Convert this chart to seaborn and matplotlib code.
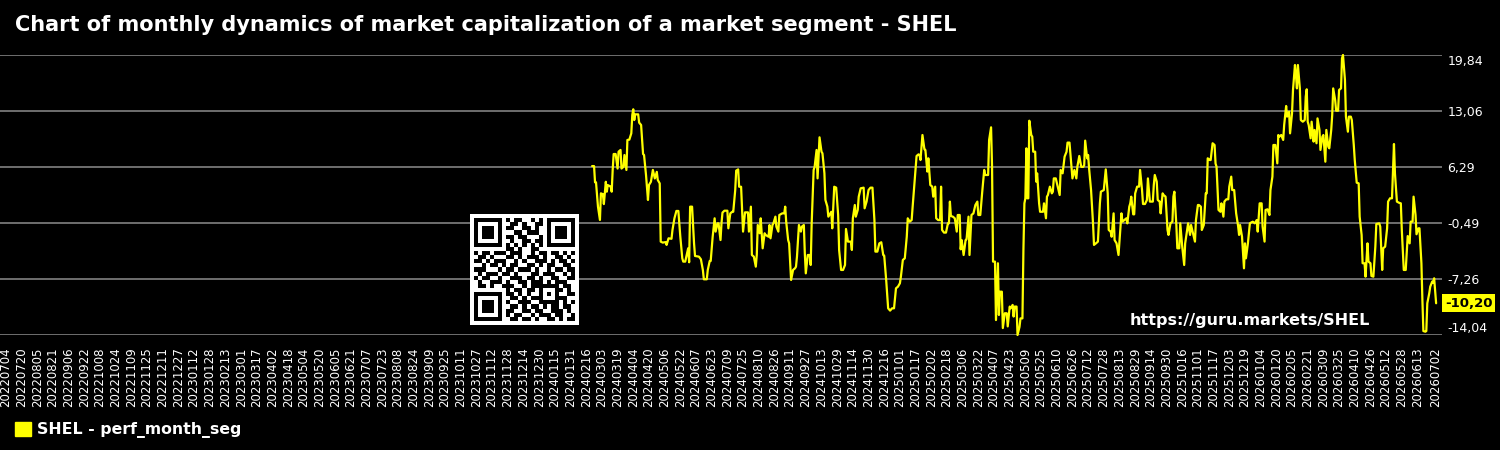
import numpy as np
import pandas as pd
import seaborn as sns
import matplotlib.pyplot as plt
from matplotlib.patches import Patch

# series: days counted from start_date, value of perf_month_seg
start_date = '2024-02-22'
day_offsets = [
    0, 2, 3, 4, 6, 8, 9, 11, 12, 14, 15, 16, 19, 20, 21, 22, 24, 26, 27, 29,
    30, 32, 33, 35, 36, 38, 40, 41, 42, 43, 44, 47, 48, 50, 52, 53, 55, 57, 58, 60,
    62, 64, 66, 67, 69, 70, 72, 75, 76, 78, 81, 82, 84, 86, 88, 90, 92, 93, 95, 98,
    99, 100, 102, 104, 105, 109, 111, 113, 114, 117, 118, 120, 121, 123, 125, 126, 128, 129, 131, 132,
    133, 135, 138, 139, 141, 143, 144, 146, 147, 149, 150, 152, 153, 154, 156, 159, 160, 162, 163, 165,
    167, 168, 169, 171, 172, 174, 176, 177, 180, 181, 182, 184, 185, 187, 188, 190, 191, 194, 196, 197,
    198, 200, 201, 203, 205, 207, 208, 209, 211, 213, 214, 216, 217, 218, 220, 222, 223, 224, 226, 227,
    229, 230, 232, 234, 235, 237, 238, 240, 241, 242, 244, 245, 247, 249, 251, 252, 254, 256, 258, 259,
    261, 264, 265, 266, 268, 269, 271, 272, 274, 277, 278, 280, 282, 284, 286, 288, 289, 291, 293, 295,
    297, 298, 300, 302, 304, 306, 308, 310, 312, 314, 315, 317, 319, 321, 322, 324, 326, 327, 329, 331,
    333, 334, 335, 337, 339, 340, 342, 343, 345, 347, 348, 350, 351, 353, 355, 356, 357, 359, 361, 363,
    364, 365, 366, 368, 370, 372, 373, 375, 376, 377, 379, 381, 382, 384, 385, 387, 389, 391, 393, 394,
    396, 398, 400, 401, 404, 405, 407, 408, 409, 411, 412, 414, 415, 416, 418, 419, 421, 423, 424, 426,
    427, 429, 430, 431, 433, 434, 436, 437, 439, 440, 441, 442, 443, 444, 445, 446, 448, 449, 450, 452,
    453, 454, 456, 457, 460, 461, 463, 464, 465, 467, 469, 470, 471, 473, 475, 477, 478, 480, 482, 484,
    485, 487, 489, 490, 492, 494, 495, 497, 499, 501, 502, 503, 505, 506, 507, 509, 511, 512, 514, 516,
    518, 519, 522, 524, 526, 527, 529, 530, 532, 533, 535, 537, 539, 540, 541, 543, 545, 546, 548, 549,
    550, 552, 553, 554, 556, 558, 559, 561, 562, 564, 566, 567, 569, 572, 573, 574, 576, 577, 579, 580,
    582, 583, 585, 587, 588, 590, 592, 593, 594, 596, 597, 599, 600, 602, 604, 605, 607, 608, 610, 611,
    613, 615, 616, 618, 619, 621, 622, 624, 626, 627, 628, 630, 631, 633, 635, 636, 637, 639, 641, 642,
    644, 645, 647, 649, 650, 652, 653, 655, 657, 659, 660, 661, 663, 665, 666, 667, 669, 671, 672, 674,
    676, 678, 679, 681, 683, 684, 686, 687, 689, 691, 692, 694, 695, 697, 699, 700, 701, 703, 705, 706,
    708, 709, 711, 712, 714, 715, 717, 718, 719, 720, 722, 723, 725, 727, 728, 729, 730, 731, 733, 734,
    736, 737, 739, 740, 742, 743, 745, 746, 748, 749, 751, 752, 754, 755, 756, 758, 759, 761, 762, 764,
    765, 766, 768, 769, 771, 772, 774, 775, 777, 778, 780, 782, 783, 785, 786, 788, 789, 791, 792, 794,
    795, 797, 799, 800, 803, 804, 806, 807, 809, 811, 812, 814, 816, 818, 819, 821, 823, 825, 826, 828,
    830, 832, 834, 835, 837, 838, 840, 841, 843, 844, 846, 847, 848, 850, 851, 852, 854, 855, 857, 858,
    859, 861,
]
values = [
    6.40, 6.40, 4.43, 4.43, 1.49, -0.12, 3.10, 3.00, 1.80, 4.50, 3.30, 4.10, 3.91, 3.30, 5.93, 7.86, 7.86, 6.10, 8.14, 8.35,
    6.10, 6.30, 7.74, 5.93, 9.56, 9.60, 10.36, 12.58, 13.27, 11.97, 12.66, 12.66, 11.66, 11.37, 7.86, 7.74, 5.32, 2.30, 4.11, 4.50,
    5.93, 4.90, 5.70, 4.72, 4.30, -2.74, -2.86, -2.80, -3.14, -2.34, -2.40, -1.33, 0.08, 0.97, 0.97, -2.15, -4.76, -5.16, -5.16, -3.55,
    -5.24, 1.49, 1.49, -2.95, -4.48, -4.56, -4.88, -6.17, -7.30, -7.30, -6.17, -5.08, -5.08, -2.15, 0.08, -1.53, -0.53, -0.53, -2.55, -0.53,
    0.77, 1.00, 1.00, -1.13, 0.68, 0.87, 0.87, 3.50, 5.85, 6.00, 3.90, 3.90, 1.09, -1.53, 0.80, 0.80, -1.53, 1.49, -4.36, -4.56,
    -5.77, -4.36, -0.73, -1.73, 0.08, -3.55, -1.73, -1.93, -2.15, -0.73, -2.34, -0.73, -0.53, 0.28, -0.93, -1.53, 0.48, 0.68, 0.68, 1.49,
    -0.33, -2.55, -2.95, -7.38, -6.17, -5.97, -5.77, -4.56, -0.73, -1.53, -0.93, -0.73, -4.15, -6.58, -4.36, -4.36, -5.57, -0.53, 5.93, 6.30,
    8.35, 4.91, 9.88, 8.14, 7.94, 5.52, 2.30, 1.49, 0.28, 0.48, 0.87, -1.13, 3.90, 3.79, 0.48, -3.75, -6.17, -6.17, -5.57, -1.21,
    -2.74, -2.74, -3.75, 0.08, 1.69, 0.28, 1.09, 2.70, 3.71, 3.79, 1.29, 2.10, 3.50, 3.79, 3.79, -0.13, -3.95, -3.95, -2.95, -2.82,
    -4.36, -4.44, -7.38, -10.81, -11.09, -10.81, -10.81, -8.39, -8.19, -7.78, -6.98, -4.96, -4.76, -2.15, 0.08, -0.33, -0.13, 1.49, 4.52, 7.62,
    7.82, 7.74, 7.13, 10.16, 8.43, 8.35, 5.73, 7.34, 4.11, 3.91, 2.70, 3.91, 0.08, -0.13, -0.13, 3.91, -1.33, -1.65, -1.65, -0.53,
    -0.53, 2.10, 0.36, 0.28, 0.08, -1.53, 0.48, 0.48, -3.67, -2.55, -4.36, -2.55, -2.47, 0.28, -4.36, 0.48, 0.68, 1.69, 2.10, 0.48,
    0.48, 3.30, 5.93, 5.32, 5.32, 9.56, 11.09, 6.30, -5.16, -5.16, -12.23, -5.36, -11.62, -8.80, -8.80, -13.20, -11.41, -11.41, -13.00, -10.60,
    -10.81, -10.40, -11.81, -10.60, -10.60, -14.04, -13.06, -12.03, -12.03, -3.75, 1.89, 2.50, 8.55, 2.50, 2.50, 11.89, 10.16, 9.96, 8.14, 8.14,
    4.52, 5.52, 1.89, 0.87, 0.87, 1.89, 0.08, 2.70, 2.90, 3.91, 3.10, 3.30, 4.91, 4.91, 3.91, 2.90, 5.93, 5.52, 7.54, 8.14,
    9.24, 9.24, 6.30, 4.91, 5.93, 4.91, 6.30, 7.62, 6.30, 6.30, 6.50, 9.48, 7.34, 7.74, 6.10, 3.50, -0.53, -3.14, -2.95, -2.74,
    1.89, 3.30, 3.50, 6.00, 3.10, -1.33, -1.53, -2.15, 0.68, -2.55, -2.95, -4.36, -0.93, 0.68, -0.33, -0.13, 0.08, -0.53, 1.49, 1.89,
    2.70, 0.56, 0.56, 3.10, 3.91, 3.91, 5.93, 3.50, 1.81, 1.81, 2.30, 4.91, 2.10, 2.10, 4.11, 5.32, 4.52, 2.30, 2.10, 0.68,
    3.10, 2.90, 2.70, -1.33, -1.93, -0.53, -0.33, 2.70, 3.30, -0.73, -3.55, -3.55, -0.53, -3.35, -5.57, -2.95, -1.33, -0.53, -1.93, -0.73,
    -1.73, -2.74, -0.13, 1.69, 1.69, 1.49, -1.33, -0.73, 3.10, 3.10, 7.34, 7.13, 7.13, 9.16, 8.95, 6.70, 6.33, 1.09, 0.87, 1.89,
    0.28, 2.10, 2.38, 2.38, 3.91, 5.12, 3.50, 3.50, 0.68, -0.85, -1.93, -0.73, -2.15, -5.97, -2.95, -4.76, -2.95, -0.53, -0.45, -0.33,
    -0.53, -0.13, -1.53, 1.89, 1.89, -0.93, -2.74, 1.09, 1.17, 0.48, 3.50, 5.12, 8.95, 8.95, 6.73, 10.16, 9.96, 10.16, 9.56, 11.37,
    13.67, 12.38, 12.98, 10.36, 12.78, 15.61, 18.63, 17.40, 15.80, 18.63, 15.80, 11.97, 11.77, 11.97, 14.80, 15.69, 11.77, 11.37, 9.76, 11.77,
    9.36, 10.77, 9.16, 12.17, 10.77, 8.35, 9.96, 10.16, 6.93, 10.77, 8.75, 8.55, 10.77, 12.58, 15.80, 14.40, 13.10, 13.10, 15.61, 15.80,
    19.44, 19.84, 16.82, 12.38, 10.56, 12.38, 12.38, 11.97, 8.95, 7.13, 4.39, 4.31, 0.28, -1.93, -5.36, -5.36, -6.98, -2.95, -5.16, -5.36,
    -6.90, -6.98, -3.35, -0.61, -0.53, -0.93, -6.17, -3.55, -3.35, -1.13, 2.10, 2.50, 2.50, 9.07, 5.52, 2.10, 1.97, 1.89, -1.33, -6.17,
    -6.17, -2.07, -2.95, -0.33, -0.33, 2.70, 0.48, -1.85, -1.13, -1.13, -5.36, -9.80, -13.56, -13.64, -13.56, -10.20, -8.99, -8.19, -7.58, -7.70,
    -7.18, -10.20,
]

first_tick = '2022-07-04'
last_regular_tick = '2026-06-13'
last_date = '2026-07-02'
series_name = 'SHEL - perf_month_seg'
title = 'Chart of monthly dynamics of market capitalization of a market segment - SHEL'
site = 'https://guru.markets/SHEL'

# qr-like badge
qr_rows = [
    "1111111010110010101111111",
    "1000001001101001101000001",
    "1011101011001101001011101",
    "1011101000110111001011101",
    "1011101011011000101011101",
    "1000001001001101101000001",
    "1111111010101010101111111",
    "0000000011010011000000000",
    "1011011101110010110110101",
    "0110100011010111010011010",
    "1101011100101001110101101",
    "0010110101100110101100110",
    "1110001011011101001011011",
    "0101110110100011011100101",
    "1011001001110110100110011",
    "0100111010011011101011100",
    "0110100111001011111110110",
    "0000000010110110100011010",
    "1111111011010100101010011",
    "1000001001101011100011100",
    "1011101010011100111110101",
    "1011101001101011010110110",
    "1011101011001101100111010",
    "1000001010110010111011001",
    "1111111001101101001101011",
]

sns.set_theme(style='dark')
plt.rcParams['font.family'] = ['DejaVu Sans']

df = pd.DataFrame({
    'date': pd.Timestamp(start_date) + pd.to_timedelta(day_offsets, unit='D'),
    'value': values,
})

fig = plt.figure(figsize=(15, 4.5), dpi=100, facecolor='black')
ax = fig.add_axes([0, 1 - 335 / 450, 1442 / 1500, 280 / 450])
ax.set_facecolor('black')

sns.lineplot(data=df, x='date', y='value', color='#ffff00', lw=1.6, ax=ax, legend=False)
ax.lines[0].set_clip_on(False)

ax.set_xlim(pd.Timestamp(first_tick) - pd.Timedelta(days=6), pd.Timestamp(last_date) + pd.Timedelta(days=6))
vmin, vmax = min(values), max(values)
ax.set_ylim(vmin, vmax)
yticks = np.linspace(vmin, vmax, 6)
ax.yaxis.tick_right()
ax.set_yticks(yticks)
ax.set_yticklabels([f'{t:.2f}'.replace('.', ',') for t in yticks])
ylabels = ax.get_yticklabels()
ylabels[0].set_va('bottom')
ylabels[-1].set_va('top')

tick_dates = pd.date_range(first_tick, last_regular_tick, freq='16D').append(pd.DatetimeIndex([last_date]))
ax.set_xticks(tick_dates)
ax.set_xticklabels([d.strftime('%Y%m%d') for d in tick_dates], rotation=90)

ax.grid(axis='y', color='#6e6e6e', lw=1.4)
ax.grid(axis='x', visible=False)
ax.tick_params(axis='x', length=0, pad=9, labelsize=8.5, colors='white')
ax.tick_params(axis='y', length=0, pad=4, labelsize=9, colors='white')
for s in ax.spines.values():
    s.set_visible(False)
ax.set_xlabel('')
ax.set_ylabel('')

ax.annotate(f'{values[-1]:.2f}'.replace('.', ','), xy=(1.0, values[-1]),
            xycoords=('axes fraction', 'data'), xytext=(2, 0), textcoords='offset points',
            ha='left', va='center', fontsize=9.5, fontweight='bold', color='black',
            bbox=dict(boxstyle='square,pad=0.2', fc='#ffff00', ec='none'), annotation_clip=False)

ax.text(1130 / 1442, 15 / 280, site, transform=ax.transAxes, fontsize=11.5,
        fontweight='bold', color='white', ha='left', va='center')

fig.text(15 / 1500, 1 - 25 / 450, title, fontsize=15, fontweight='bold',
         color='white', ha='left', va='center')

fig.legend(handles=[Patch(color='#ffff00', label=series_name)], loc='center left',
           bbox_to_anchor=(15 / 1500, 1 - 430 / 450), frameon=False,
           prop={'weight': 'bold', 'size': 11.3}, labelcolor='white',
           handlelength=1.0, handleheight=1.0, handletextpad=0.4,
           borderaxespad=0, borderpad=0)

qr = np.array([[int(c) for c in r] for r in qr_rows])
qr = np.pad(qr, 1)
qax = fig.add_axes([470 / 1500, 1 - 325 / 450, 109 / 1500, 111 / 450])
qax.imshow(qr, cmap='gray_r', interpolation='nearest', aspect='auto', vmin=0, vmax=1)
qax.axis('off')

fig.savefig('out.png', dpi=100, facecolor='black')
